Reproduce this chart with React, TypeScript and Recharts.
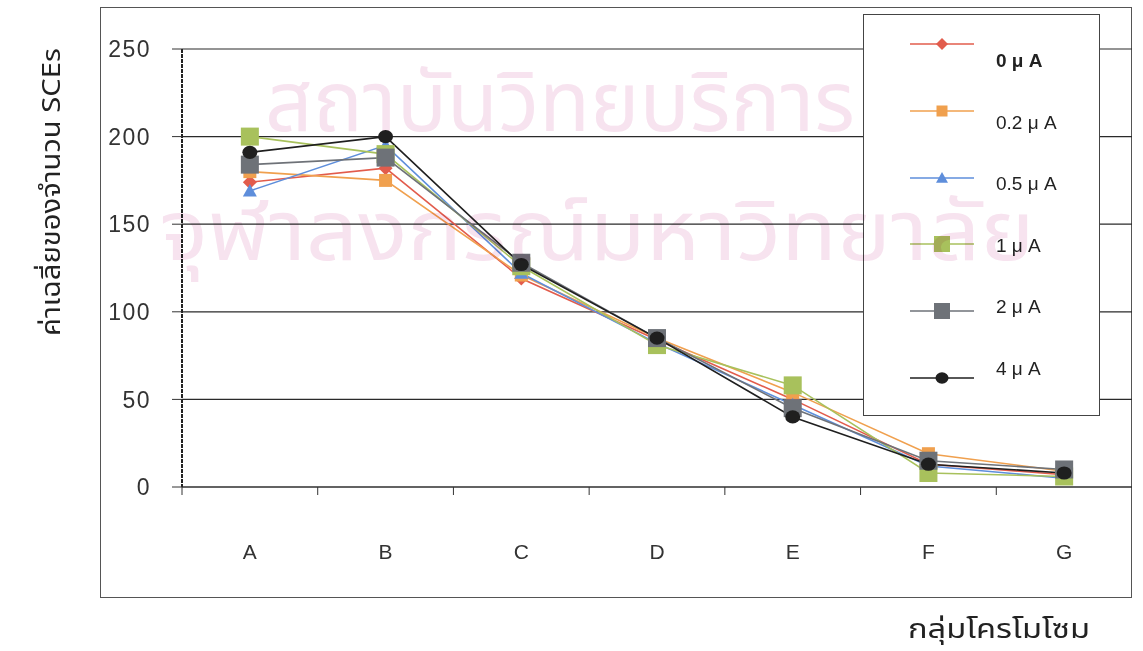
import React from 'react';
import { LineChart, Line, XAxis, YAxis, CartesianGrid, Legend, Label } from 'recharts';

// Chromosome groups on the x axis
const groups = ['A', 'B', 'C', 'D', 'E', 'F', 'G'];

// Mean SCE counts per group, one array per current level
const current0 = [174, 182, 119, 84, 50, 13, 7];
const current02 = [180, 175, 121, 85, 54, 19, 9];
const current05 = [169, 195, 122, 82, 47, 12, 5];
const current1 = [200, 190, 126, 81, 58, 8, 6];
const current2 = [184, 188, 128, 85, 45, 15, 10];
const current4 = [191, 200, 127, 85, 40, 13, 8];

const yTicks = [0, 50, 100, 150, 200, 250];
const seriesNames = ['0 μ A', '0.2 μ A', '0.5 μ A', '1 μ A', '2 μ A', '4 μ A'];
const yTitle = 'ค่าเฉลี่ยของจำนวน SCEs';
const xTitle = 'กลุ่มโครโมโซม';
const watermark = ['สถาบันวิทยบริการ', 'จุฬาลงกรณ์มหาวิทยาลัย'];

const data = groups.map((g, i) => ({
  group: g,
  s0: current0[i],
  s02: current02[i],
  s05: current05[i],
  s1: current1[i],
  s2: current2[i],
  s4: current4[i],
}));

type Shape = 'diamond' | 'square' | 'triangle' | 'circle';

const series: { key: string; name: string; color: string; shape: Shape; size: number; bold?: boolean }[] = [
  { key: 's0', name: seriesNames[0], color: '#e25c4c', shape: 'diamond', size: 14, bold: true },
  { key: 's02', name: seriesNames[1], color: '#f0a04e', shape: 'square', size: 13 },
  { key: 's05', name: seriesNames[2], color: '#5e8edb', shape: 'triangle', size: 14 },
  { key: 's1', name: seriesNames[3], color: '#a8c15c', shape: 'square', size: 18 },
  { key: 's2', name: seriesNames[4], color: '#6e7278', shape: 'square', size: 18 },
  { key: 's4', name: seriesNames[5], color: '#1f1f1f', shape: 'circle', size: 15 },
];

const THAI_FONT = '"Noto Sans Thai", "Liberation Sans", Arial, sans-serif';

const Marker = ({ cx, cy, shape, size, color }: { cx: number; cy: number; shape: Shape; size: number; color: string }) => {
  const h = size / 2;
  if (shape === 'diamond') {
    return <polygon points={`${cx},${cy - h} ${cx + h},${cy} ${cx},${cy + h} ${cx - h},${cy}`} fill={color} />;
  }
  if (shape === 'triangle') {
    return <polygon points={`${cx},${cy - h} ${cx + h},${cy + h * 0.8} ${cx - h},${cy + h * 0.8}`} fill={color} />;
  }
  if (shape === 'circle') {
    return <ellipse cx={cx} cy={cy} rx={h} ry={h * 0.88} fill={color} />;
  }
  return <rect x={cx - h} y={cy - h} width={size} height={size} fill={color} />;
};

const makeDot = (shape: Shape, size: number, color: string) => (props: any) => {
  const { cx, cy, index } = props;
  if (cx == null || cy == null) return <g key={index} />;
  return (
    <g key={`${shape}-${index}`}>
      <Marker cx={cx} cy={cy} shape={shape} size={size} color={color} />
    </g>
  );
};

// Category tick: tick mark on the band boundary, label in the band centre
const GroupTick = (props: any) => {
  const { x, y, payload } = props;
  const off = payload && typeof payload.offset === 'number' ? payload.offset : 68;
  return (
    <g>
      <line x1={x - off} x2={x - off} y1={y - 8} y2={y} stroke="#333" strokeWidth={1} />
      <text x={x} y={y + 56} textAnchor="middle" dominantBaseline="central" fontSize={21} fill="#333">
        {payload.value}
      </text>
    </g>
  );
};

// Legend: symbols and labels sit on slightly different row pitches
const LegendBox = (props: any) => {
  const payload: any[] = props.payload || [];
  return (
    <div
      style={{
        width: '100%',
        height: '100%',
        boxSizing: 'border-box',
        border: '1px solid #444',
        background: '#fff',
        position: 'relative',
      }}
    >
      {payload.map((entry, i) => {
        const s = series.find((d) => d.key === entry.dataKey) || series[i];
        const symbolY = 29 + i * 66.8;
        const textY = 46 + i * 61.6;
        return (
          <React.Fragment key={s.key}>
            <svg width={80} height={40} style={{ position: 'absolute', left: 42, top: symbolY - 20 }}>
              <line x1={4} x2={68} y1={20} y2={20} stroke={s.color} strokeWidth={1.5} />
              <Marker cx={36} cy={20} shape={s.shape} size={s.size - 2} color={s.color} />
            </svg>
            <span
              style={{
                position: 'absolute',
                left: 132,
                top: textY - 10,
                fontSize: 19,
                fontWeight: s.bold ? 700 : 400,
                color: '#222',
                whiteSpace: 'nowrap',
                fontFamily: '"Liberation Sans", Arial, sans-serif',
                lineHeight: '20px',
              }}
            >
              {s.name}
            </span>
          </React.Fragment>
        );
      })}
    </div>
  );
};

const YTitle = () => (
  <text
    x={52}
    y={192}
    transform="rotate(-90 52 192)"
    textAnchor="middle"
    dominantBaseline="central"
    fontSize={26}
    textLength={288}
    lengthAdjust="spacingAndGlyphs"
    fill="#222"
    fontFamily={THAI_FONT}
  >
    {yTitle}
  </text>
);

export default function App() {
  return (
    <div
      style={{
        position: 'absolute',
        left: 0,
        top: 0,
        width: 1143,
        height: 651,
        background: '#fff',
        overflow: 'hidden',
        fontFamily: '"Liberation Sans", Arial, sans-serif',
      }}
    >
      {/* outer chart frame */}
      <div
        style={{
          position: 'absolute',
          left: 100,
          top: 7,
          width: 1032,
          height: 591,
          boxSizing: 'border-box',
          border: '1px solid #555',
        }}
      />
      <div style={{ position: 'absolute', left: 0, top: 0 }}>
        <LineChart width={1143} height={651} data={data} margin={{ top: 49, right: 11, bottom: 84, left: 122 }}>
          <CartesianGrid horizontal vertical={false} stroke="#2a2a2a" strokeWidth={1.2} />
          <XAxis
            dataKey="group"
            scale="band"
            height={80}
            interval={0}
            tickSize={8}
            tickMargin={0}
            tickLine={false}
            axisLine={{ stroke: '#333', strokeWidth: 1.2 }}
            tick={<GroupTick />}
          />
          <YAxis
            width={60}
            domain={[0, 250]}
            ticks={yTicks}
            interval={0}
            tickSize={10}
            tickMargin={21}
            axisLine={{ stroke: '#222', strokeWidth: 2, strokeDasharray: '4 1' }}
            tickLine={{ stroke: '#333' }}
            tick={{ fill: '#333', fontSize: 23, letterSpacing: 1.5 }}
          >
            <Label content={<YTitle />} />
          </YAxis>
          <Legend
            layout="vertical"
            align="center"
            verticalAlign="middle"
            wrapperStyle={{ left: 863, top: 14, width: 237, height: 402 }}
            content={<LegendBox />}
          />
          {series.map((s) => (
            <Line
              key={s.key}
              type="linear"
              dataKey={s.key}
              name={s.name}
              stroke={s.color}
              strokeWidth={1.6}
              dot={makeDot(s.shape, s.size, s.color)}
              activeDot={false}
              isAnimationActive={false}
            />
          ))}
        </LineChart>
      </div>
      {/* x axis title */}
      <svg width={1143} height={651} style={{ position: 'absolute', left: 0, top: 0, pointerEvents: 'none' }}>
        <text
          x={999}
          y={638}
          textAnchor="middle"
          fontSize={27}
          textLength={182}
          lengthAdjust="spacingAndGlyphs"
          fill="#222"
          fontFamily={THAI_FONT}
        >
          {xTitle}
        </text>
      </svg>
      {/* faint library stamp printed across the page */}
      <svg
        width={1143}
        height={651}
        style={{ position: 'absolute', left: 0, top: 0, pointerEvents: 'none', mixBlendMode: 'multiply' }}
      >
        <text
          x={560}
          y={131}
          textAnchor="middle"
          fontSize={84}
          textLength={590}
          lengthAdjust="spacingAndGlyphs"
          fill="#f7e3ef"
          fontFamily={THAI_FONT}
        >
          {watermark[0]}
        </text>
        <text
          x={597}
          y={260}
          textAnchor="middle"
          fontSize={84}
          textLength={875}
          lengthAdjust="spacingAndGlyphs"
          fill="#f7e3ef"
          fontFamily={THAI_FONT}
        >
          {watermark[1]}
        </text>
      </svg>
    </div>
  );
}
